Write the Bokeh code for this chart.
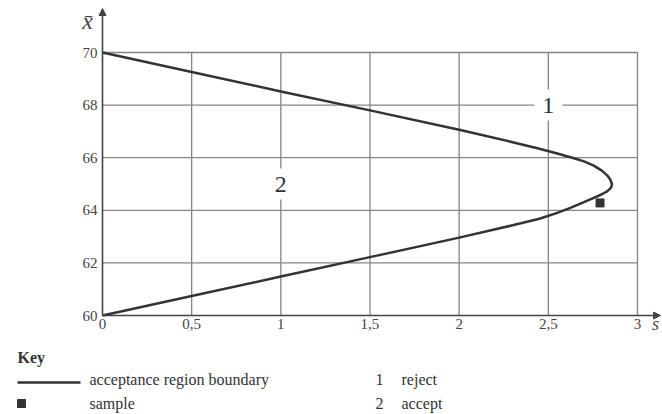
from bokeh.plotting import figure
from bokeh.models import Range1d, Arrow, NormalHead, ColumnDataSource
from bokeh.core.properties import value
from bokeh.embed import file_html
from bokeh.resources import INLINE

# ---- data ----
boundary_s = [0, 0.5, 1.0, 1.5, 2.0, 2.3, 2.45, 2.55, 2.634, 2.70, 2.755, 2.80, 2.83, 2.848, 2.857,
              2.852, 2.83, 2.80, 2.755, 2.68, 2.62, 2.55, 2.45, 2.3, 2.0, 1.5, 1.0, 0.5, 0]
boundary_x = [70, 69.26, 68.52, 67.80, 67.06, 66.59, 66.34, 66.16, 66.0, 65.86, 65.70, 65.51, 65.33, 65.16, 65.0,
              64.86, 64.72, 64.61, 64.47, 64.25, 64.08, 63.90, 63.68, 63.43, 62.96, 62.22, 61.48, 60.74, 60]
sample_s = [2.79]
sample_x = [64.28]
x_ticks = [0, 0.5, 1, 1.5, 2, 2.5, 3]
x_tick_labels = ["0", "0,5", "1", "1,5", "2", "2,5", "3"]
y_ticks = [60, 62, 64, 66, 68, 70]
y_tick_labels = ["60", "62", "64", "66", "68", "70"]
region_labels = ["1", "2"]
region_s = [2.5, 1.0]
region_x = [68.0, 65.0]
key_numbers = ["1", "2"]
key_meanings = ["reject", "accept"]
key_symbols = ["acceptance region boundary", "sample"]

# ---- styling / layout ----
FONT = "Liberation Serif"
DARK = "#333333"
AXIS = "#444444"
GRID = "#858585"
W, H = 662, 414
X0_PX, X_PER = 102.0, 178.33       # pixel of s=0, pixels per unit s
Y0_PX, Y_PER = 315.0, 26.3         # pixel of x=60, pixels per unit x
S_LO, S_HI = -X0_PX / X_PER, (W - X0_PX) / X_PER
XB_HI = y_ticks[0] + Y0_PX / Y_PER
XB_LO = y_ticks[0] - (H - Y0_PX) / Y_PER
AXIS_TOP = y_ticks[0] + (Y0_PX - 8) / Y_PER
AXIS_RIGHT = (660 - X0_PX) / X_PER

p = figure(width=W, height=H, output_backend="svg", toolbar_location=None,
           x_range=Range1d(S_LO, S_HI), y_range=Range1d(XB_LO, XB_HI),
           min_border=0)
p.extra_x_ranges = {"px": Range1d(0, W)}
p.extra_y_ranges = {"px": Range1d(H, 0)}
p.axis.visible = False
p.grid.visible = False
p.outline_line_color = None

# grid lines limited to the 0..3 x 60..70 box
xs_v = [t for t in x_ticks if t > x_ticks[0]]
p.segment(x0=xs_v, y0=[y_ticks[0]] * len(xs_v), x1=xs_v, y1=[y_ticks[-1]] * len(xs_v),
          line_color=GRID, line_width=1.3)
ys_h = [t for t in y_ticks if t > y_ticks[0]]
p.segment(x0=[x_ticks[0]] * len(ys_h), y0=ys_h, x1=[x_ticks[-1]] * len(ys_h), y1=ys_h,
          line_color=GRID, line_width=1.3)

# axes with arrow heads
head = dict(size=7, fill_color=AXIS, line_color=AXIS)
p.add_layout(Arrow(x_start=x_ticks[0], y_start=y_ticks[0], x_end=x_ticks[0], y_end=AXIS_TOP,
                   line_color=AXIS, line_width=1.6, end=NormalHead(**head)))
p.add_layout(Arrow(x_start=x_ticks[0], y_start=y_ticks[0], x_end=AXIS_RIGHT, y_end=y_ticks[0],
                   line_color=AXIS, line_width=1.6, end=NormalHead(**head)))

# tick labels (x: data scale / y in px; y: px / data scale)
tick_style = dict(text_font=value(FONT), text_font_size="15px", text_color=AXIS)
p.text(x=x_ticks, y=[323] * len(x_ticks), text=x_tick_labels, y_range_name="px",
       text_align="center", text_baseline="middle", **tick_style)
p.text(x=[97] * len(y_ticks), y=y_ticks, text=y_tick_labels, x_range_name="px",
       text_align="right", text_baseline="middle", **tick_style)

# axis titles
p.text(x=[87], y=[20], text=["x̄"], x_range_name="px", y_range_name="px",
       text_align="center", text_baseline="middle", text_font=value(FONT),
       text_font_size="24px", text_font_style="italic", text_color=AXIS)
p.text(x=[655], y=[323], text=["s"], x_range_name="px", y_range_name="px",
       text_align="center", text_baseline="middle", text_font=value(FONT),
       text_font_size="18px", text_font_style="italic", text_color=AXIS)

# boundary and sample
p.line(boundary_s, boundary_x, line_color=DARK, line_width=2.5, line_join="round")
p.scatter(sample_s, sample_x, marker="square", size=8, color=DARK)

# region labels
src = ColumnDataSource(dict(x=region_s, y=region_x, t=region_labels))
p.text(x="x", y="y", text="t", source=src, text_align="center", text_baseline="middle",
       text_font=value(FONT), text_font_size="24px", text_color=DARK,
       background_fill_color="white", padding=8)

# ---- key ----
kt = dict(x_range_name="px", y_range_name="px", text_font=value(FONT),
          text_font_size="16px", text_color=DARK, text_baseline="middle")
p.text(x=[17], y=[357], text=["Key"], text_font_style="bold", **kt)
p.line(x=[17, 80], y=[382, 382], x_range_name="px", y_range_name="px",
       line_color=DARK, line_width=2.5)
p.scatter(x=[21], y=[403], x_range_name="px", y_range_name="px",
          marker="square", size=8, color=DARK)
p.text(x=[89, 89], y=[379, 403], text=key_symbols, **kt)
p.text(x=[375, 375], y=[379, 403], text=key_numbers, **kt)
p.text(x=[401, 401], y=[379, 403], text=key_meanings, **kt)

open("out.html", "w").write(file_html(p, INLINE))
